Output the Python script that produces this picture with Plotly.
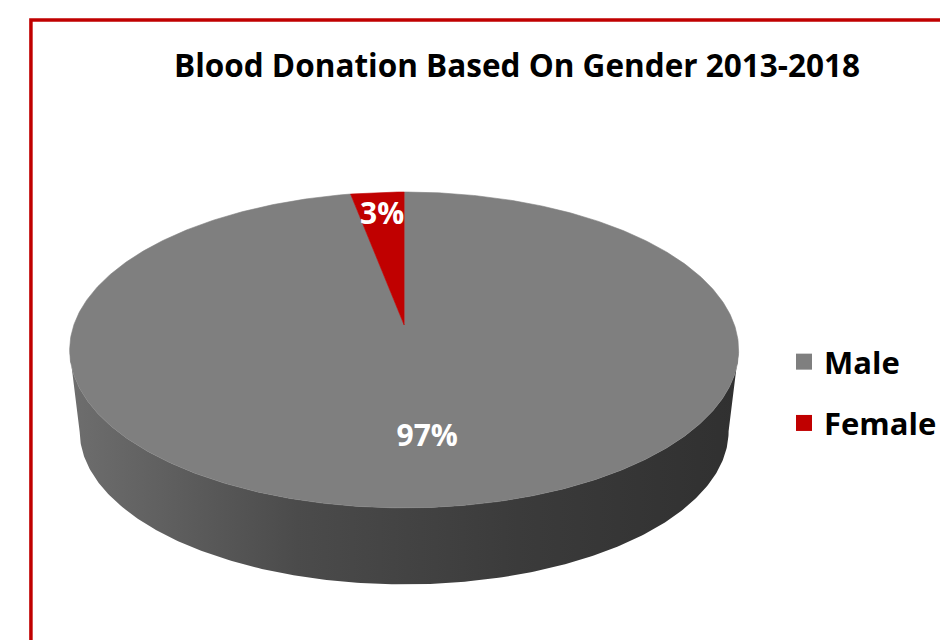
import numpy as np
import plotly.graph_objects as go

# ---- data ----
labels = ["Male", "Female"]
shares = [97, 3]            # percent
slice_colors = ["#7f7f7f", "#c00000"]
title_text = "Blood Donation Based On Gender 2013-2018"

# ---- geometry / style (pixel space of the 942x640 canvas) ----
W, H = 942, 640
CX, CY = 405, 325            # projected centre of the top face
A, B, K = 331, 154, 0.158    # ellipse half-axes and perspective factor
DEPTH, S_BOT = 82, 0.97      # thickness and shrink of the bottom face
START_DEG = 90               # first slice starts at the top, clockwise
LABEL_R = [0.665, 0.795]
SIDE_SHADES = [
    [[0, "#6e6e6e"], [0.34, "#4b4b4b"], [0.67, "#3b3b3b"], [1, "#303030"]],
    [[0, "#a00000"], [1, "#600000"]],
]
FONT = "Open Sans"


def proj(phi_deg, r=1.0, bottom=False):
    p = np.radians(phi_deg)
    u, v = r * np.cos(p), r * np.sin(p)
    d = 1 + K * v
    X, Y = A * u / d, -B * v / d
    if bottom:
        return CX + S_BOT * X, CY + DEPTH + S_BOT * Y
    return CX + X, CY + Y


total = float(sum(shares))
bounds = []
a0 = START_DEG
for s in shares:
    a1 = a0 - 360.0 * s / total
    bounds.append((a0, a1))
    a0 = a1

fig = go.Figure()

# sides (only the front-facing part is visible)
for i, (a0, a1) in enumerate(bounds):
    phis = np.linspace(a0, a1, 600)
    vis = np.sin(np.radians(phis)) <= -K
    idx = np.where(vis)[0]
    if len(idx) == 0:
        continue
    runs = np.split(idx, np.where(np.diff(idx) > 1)[0] + 1)
    for run in runs:
        ph = phis[run]
        tx, ty = proj(ph)
        bx, by = proj(ph[::-1], bottom=True)
        xs = np.concatenate([tx, bx, tx[:1]])
        ys = np.concatenate([ty, by, ty[:1]])
        fig.add_trace(go.Scatter(
            x=xs, y=ys, mode="lines", fill="toself",
            line=dict(width=0), fillcolor=slice_colors[i],
            fillgradient=dict(type="horizontal", colorscale=SIDE_SHADES[i]),
            hoverinfo="skip", showlegend=False))

# top faces
for i, (a0, a1) in enumerate(bounds):
    phis = np.linspace(a0, a1, 600)
    ax, ay = proj(phis)
    xs = np.concatenate([[CX], ax, [CX]])
    ys = np.concatenate([[CY], ay, [CY]])
    fig.add_trace(go.Scatter(
        x=xs, y=ys, mode="lines", fill="toself",
        line=dict(width=0.6, color=slice_colors[i]),
        fillcolor=slice_colors[i], hoverinfo="skip", showlegend=False))

# data labels
for i, (a0, a1) in enumerate(bounds):
    lx, ly = proj((a0 + a1) / 2, r=LABEL_R[i])
    fig.add_trace(go.Scatter(
        x=[lx], y=[ly], mode="text", text=[f"<b>{shares[i]}%</b>"],
        textposition="middle center",
        textfont=dict(family=FONT, size=30, color="white"),
        hoverinfo="skip", showlegend=False))

# legend entries
for i, lab in enumerate(labels):
    fig.add_trace(go.Scatter(
        x=[None], y=[None], mode="markers", name=f"<b>{lab}</b>",
        legendgroup=lab,
        marker=dict(symbol="square", size=20, color=slice_colors[i])))

fig.add_shape(type="rect", xref="x", yref="y", x0=31, y0=20, x1=W + 30, y1=H + 30,
              line=dict(color="#c00000", width=3.5), fillcolor="rgba(0,0,0,0)")

fig.update_layout(
    width=W, height=H, margin=dict(l=0, r=0, t=0, b=0),
    paper_bgcolor="white", plot_bgcolor="white",
    xaxis=dict(range=[0, W], visible=False, fixedrange=True),
    yaxis=dict(range=[H, 0], visible=False, fixedrange=True),
    title=dict(text=f"<b>{title_text}</b>", x=517 / W, y=1 - 66 / H,
               xanchor="center", yanchor="middle",
               font=dict(family=FONT, size=31.5, color="black")),
    legend=dict(x=786 / W, y=1 - 335 / H, xanchor="left", yanchor="top",
                font=dict(family=FONT, size=31, color="black"),
                tracegroupgap=18, bgcolor="rgba(0,0,0,0)", itemsizing="trace"),
    showlegend=True,
)

fig.write_html("out.html")
